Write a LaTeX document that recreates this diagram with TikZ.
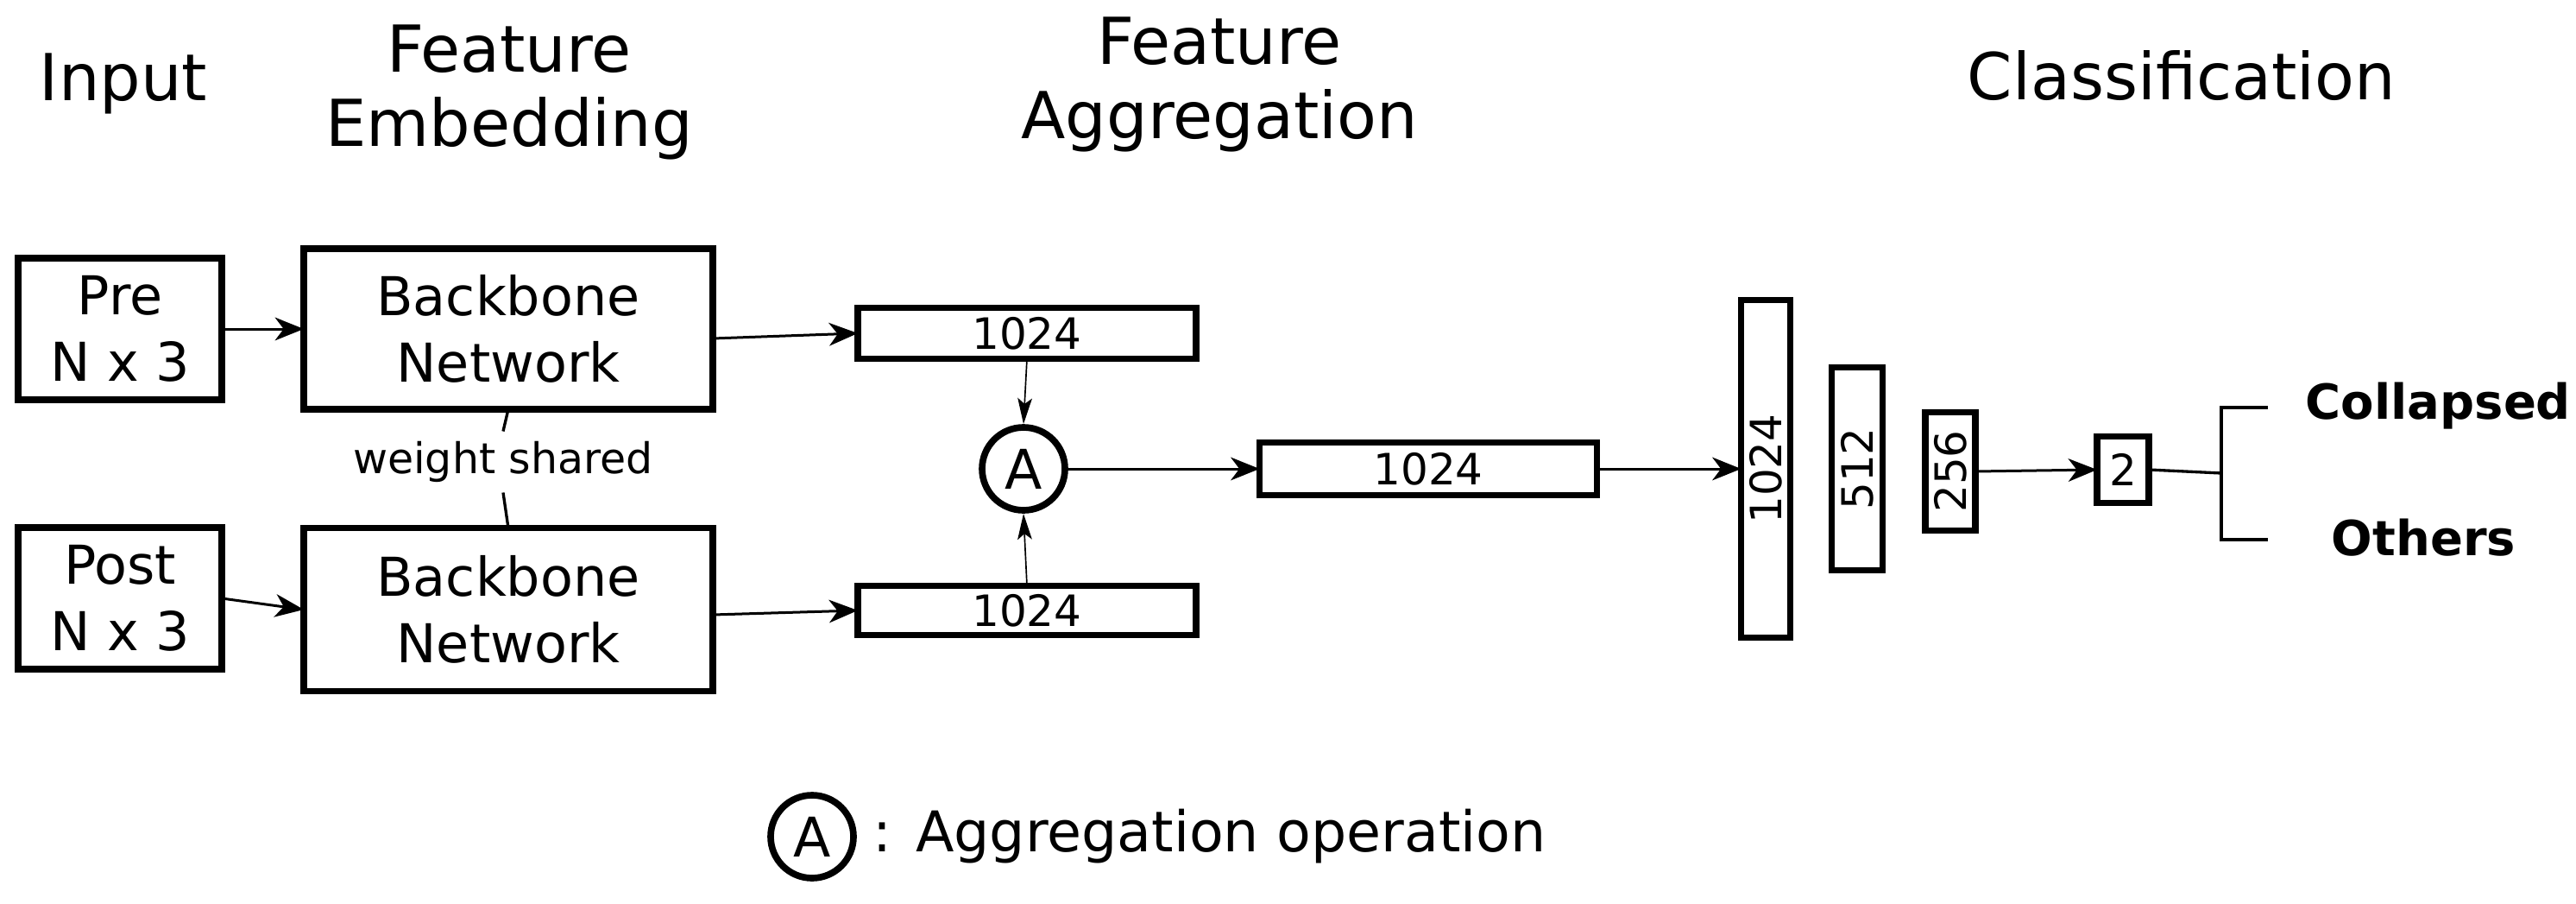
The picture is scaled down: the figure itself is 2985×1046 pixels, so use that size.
\documentclass[tikz,border=0pt]{standalone}
\usepackage{fontspec}
\setmainfont{DejaVu Sans}
\usetikzlibrary{arrows.meta}
\begin{document}
\begin{tikzpicture}[x=0.3pt,y=-0.3pt,
  box/.style={draw,line width=2.3pt,inner sep=0pt,outer sep=0pt,align=center},
  conn/.style={line width=0.9pt,-{Stealth[length=10pt,width=8pt,inset=3pt]}},
  thin/.style={line width=0.5pt,-{Stealth[length=9pt,width=5pt,inset=2pt]}},
  ttl/.style={font=\fontsize{22.5}{26}\selectfont,align=center},
  bt/.style={font=\fontsize{18.6}{23}\selectfont},
  num/.style={font=\fontsize{15}{18}\selectfont}]
\useasboundingbox (0,0) rectangle (2985,1046);
\node[ttl] (t1) at (143,97) {Input};
\node[ttl] (t2) at (590,107) {Feature\\Embedding};
\node[ttl] (t3) at (1413,98) {Feature\\Aggregation};
\node[ttl] (t4) at (2528,88) {Classification};
\node[box,bt,minimum width={236*0.3pt},minimum height={164*0.3pt}] (pre) at (139,381) {Pre\\N x 3};
\node[box,bt,minimum width={236*0.3pt},minimum height={164*0.3pt}] (post) at (139,693) {Post\\N x 3};
\node[box,bt,minimum width={474*0.3pt},minimum height={186*0.3pt}] (bb1) at (589,381) {Backbone\\Network};
\node[box,bt,minimum width={474*0.3pt},minimum height={189*0.3pt}] (bb2) at (589,706) {Backbone\\Network};
\node[font=\fontsize{14.7}{18}\selectfont] (ws) at (583,535) {weight shared};
\draw[line width=1pt] (bb1.south) -- (ws.north);
\draw[line width=1pt] (ws.south) -- (bb2.north);
\node[box,num,minimum width={392*0.3pt},minimum height={59*0.3pt}] (f1) at (1190,386) {1024};
\node[box,num,minimum width={392*0.3pt},minimum height={57*0.3pt}] (f2) at (1190,707) {1024};
\node[draw,circle,line width=2.3pt,minimum size={96*0.3pt},inner sep=0pt,font=\fontsize{19}{22}\selectfont] (A) at (1186,543) {A};
\node[box,num,minimum width={391*0.3pt},minimum height={61*0.3pt}] (f3) at (1655,543) {1024};
\node[box,num,minimum width={57*0.3pt},minimum height={391*0.3pt}] (v1) at (2046,543) {\rotatebox{90}{1024}};
\node[box,num,minimum width={59*0.3pt},minimum height={235*0.3pt}] (v2) at (2152,543) {\rotatebox{90}{512}};
\node[box,num,minimum width={58*0.3pt},minimum height={137*0.3pt}] (v3) at (2260,546) {\rotatebox{90}{256}};
\node[box,num,minimum width={60*0.3pt},minimum height={77*0.3pt}] (o2) at (2460,544) {2};
\node[font=\bfseries\fontsize{16.8}{20}\selectfont,anchor=west] (c1) at (2660,470) {Collapsed};
\node[font=\bfseries\fontsize{16.8}{20}\selectfont,anchor=west] (c2) at (2690,623) {Others};
\coordinate (j) at (2574,548);
\draw[line width=1pt] (o2.east) -- (j);
\draw[line width=1pt] (2628,472) -- (2574,472) -- (2574,625) -- (2628,625);
\draw[conn] (pre.east) -- (bb1.west);
\draw[conn] (post.east) -- (bb2.west);
\draw[conn] (bb1.east |- 0,392) -- (f1.west);
\draw[conn] (bb2.east |- 0,712) -- (f2.west);
\draw[thin] (f1.south) -- (A.north);
\draw[thin] (f2.north) -- (A.south);
\draw[conn] (A.east) -- (f3.west);
\draw[conn] (f3.east) -- (v1.west);
\draw[conn] (v3.east) -- (o2.west);
\node[draw,circle,line width=2.3pt,minimum size={96*0.3pt},inner sep=0pt,font=\fontsize{19}{22}\selectfont] (L) at (941,969) {A};
\node[anchor=west,font=\fontsize{19.5}{23}\selectfont] (lt) at (1000,969) {: Aggregation operation};
\end{tikzpicture}
\end{document}
